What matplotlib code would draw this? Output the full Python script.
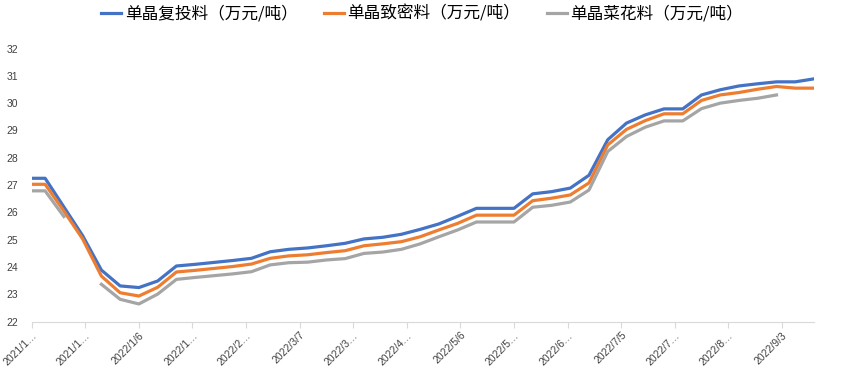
import matplotlib
matplotlib.use("Agg")
import matplotlib.pyplot as plt
import numpy as np
import pandas as pd

plt.rcParams['font.family'] = ['Noto Sans CJK SC', 'DejaVu Sans']

dates = ["2021-11-27", "2021-12-02", "2021-12-09", "2021-12-16", "2021-12-23", "2021-12-30",
         "2022-01-06", "2022-01-13", "2022-01-20", "2022-01-27", "2022-02-10", "2022-02-17",
         "2022-02-24", "2022-03-03", "2022-03-10", "2022-03-17", "2022-03-24", "2022-03-31",
         "2022-04-07", "2022-04-14", "2022-04-21", "2022-04-28", "2022-05-05", "2022-05-12",
         "2022-05-19", "2022-05-26", "2022-06-02", "2022-06-09", "2022-06-16", "2022-06-23",
         "2022-06-30", "2022-07-07", "2022-07-14", "2022-07-21", "2022-07-28", "2022-08-04",
         "2022-08-11", "2022-08-18", "2022-08-25", "2022-09-01", "2022-09-08", "2022-09-15"]

futou = [27.25, 27.25, 26.20, 25.15, 23.89, 23.31, 23.25, 23.49, 24.04, 24.10, 24.24, 24.32,
         24.56, 24.65, 24.70, 24.78, 24.87, 25.03, 25.09, 25.20, 25.38, 25.58, 25.86, 26.15,
         26.15, 26.15, 26.68, 26.76, 26.89, 27.36, 28.66, 29.27, 29.57, 29.79, 29.79, 30.30,
         30.49, 30.63, 30.71, 30.78, 30.78, 30.89]
zhimi = [27.03, 27.03, 26.05, 25.03, 23.67, 23.06, 22.94, 23.26, 23.82, 23.88, 24.02, 24.11,
         24.32, 24.41, 24.45, 24.53, 24.60, 24.78, 24.85, 24.93, 25.11, 25.36, 25.60, 25.90,
         25.90, 25.90, 26.43, 26.52, 26.64, 27.08, 28.47, 29.04, 29.36, 29.61, 29.61, 30.10,
         30.30, 30.39, 30.51, 30.61, 30.55, 30.55]
caihua = [26.79, 26.79, 25.85, np.nan, 23.37, 22.82, 22.65, 23.01, 23.55, 23.62, 23.75, 23.83,
          24.08, 24.16, 24.18, 24.26, 24.31, 24.50, 24.55, 24.65, 24.85, 25.11, 25.36, 25.65,
          25.65, 25.65, 26.19, 26.26, 26.38, 26.82, 28.23, 28.78, 29.12, 29.35, 29.35, 29.80,
          30.00, 30.10, 30.18, 30.30, np.nan, np.nan]

series_names = ["单晶复投料（万元/吨）", "单晶致密料（万元/吨）", "单晶菜花料（万元/吨）"]
colors = ["#4472C4", "#ED7D31", "#A5A5A5"]

tick_dates = ["2021-11-27", "2021-12-17", "2022-01-06", "2022-01-26", "2022-02-15",
              "2022-03-07", "2022-03-27", "2022-04-16", "2022-05-06", "2022-05-26",
              "2022-06-15", "2022-07-05", "2022-07-25", "2022-08-14", "2022-09-03"]
tick_labels = ["2021/1…", "2021/1…", "2022/1/6", "2022/1…", "2022/2…", "2022/3/7",
               "2022/3…", "2022/4…", "2022/5/6", "2022/5…", "2022/6…", "2022/7/5",
               "2022/7…", "2022/8…", "2022/9/3"]
yticks = [22, 23, 24, 25, 26, 27, 28, 29, 30, 31, 32]

x = pd.to_datetime(dates)

fig = plt.figure(figsize=(8.53, 3.67), dpi=100)
ax = fig.add_axes([0.0372, 0.1234, 0.9171, 0.7444])

for vals, name, c in zip([futou, zhimi, caihua], series_names, colors):
    ax.plot(x, vals, color=c, lw=2.3, label=name, solid_joinstyle='round')

ax.set_xlim(pd.Timestamp("2021-11-27"), pd.Timestamp("2022-09-15"))
ax.set_ylim(22, 32)
ax.set_yticks(yticks)
ax.set_yticklabels([str(v) for v in yticks], fontsize=7.5, color="#404040",
                   family=['Liberation Sans', 'DejaVu Sans'])
ax.tick_params(axis='y', length=0, pad=10)

ax.set_xticks(pd.to_datetime(tick_dates))
ax.set_xticklabels(tick_labels, rotation=45, ha='right', va='top', rotation_mode='anchor',
                   fontsize=7.5, color="#404040", family=['Liberation Sans', 'DejaVu Sans'])
ax.tick_params(axis='x', length=4, color="#D9D9D9", width=0.8, pad=2)

for s in ['top', 'right', 'left']:
    ax.spines[s].set_visible(False)
ax.spines['bottom'].set_color("#D9D9D9")
ax.spines['bottom'].set_linewidth(0.8)

fig.legend(loc='center', bbox_to_anchor=(0.495, 0.962), ncol=3, frameon=False,
           fontsize=12, handlelength=1.2, handletextpad=0.2, columnspacing=1.6)

fig.savefig("out.png", dpi=100)
